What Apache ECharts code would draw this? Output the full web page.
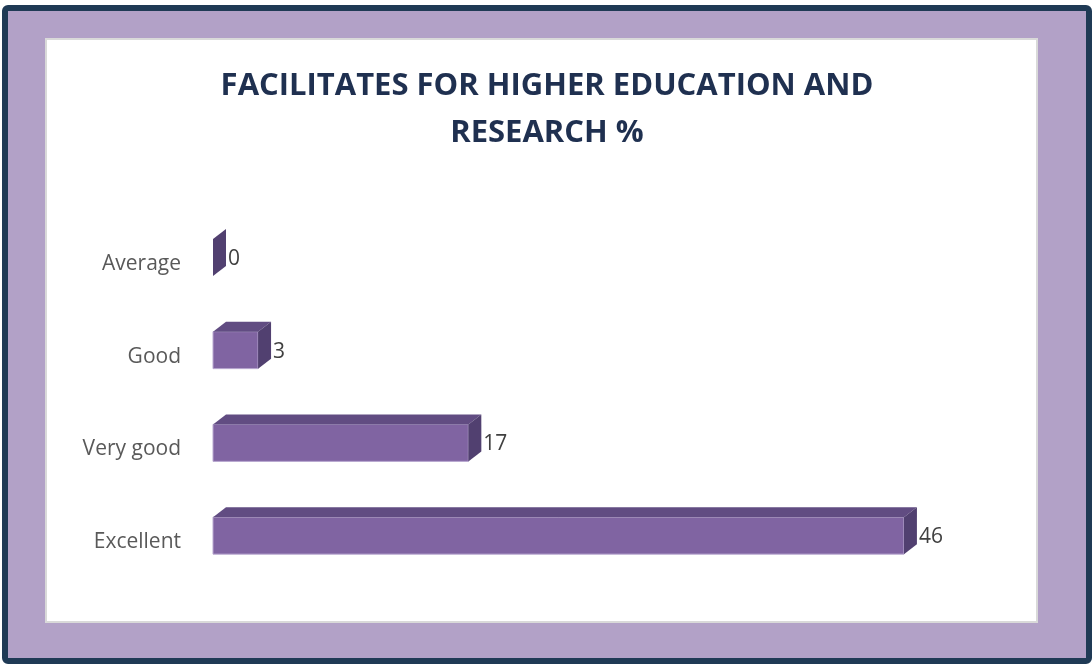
<!DOCTYPE html>
<html>
<head>
<meta charset="utf-8">
<script src="https://cdn.jsdelivr.net/npm/echarts@6/dist/echarts.min.js"></script>
<style>
  html, body { margin: 0; padding: 0; background: #fff; }
  #chart { width: 1092px; height: 664px; }
</style>
</head>
<body>
<div id="chart"></div>
<script>
// bottom to top, same order as the y axis
const categories = ['Excellent', 'Very good', 'Good', 'Average']
const values = [46, 17, 3, 0]
const titleText = 'FACILITATES FOR HIGHER EDUCATION AND\nRESEARCH %'

const chart = echarts.init(document.getElementById('chart'))

// fake 3d bar: front face + top face + side face
const DX = 13
const DY = 10

const renderBar = (params, api) => {
  const val = api.value(0)
  const cat = api.value(1)
  const p0 = api.coord([0, cat])
  const p1 = api.coord([val, cat])
  const x0 = p0[0]
  const x1 = p1[0]
  const c = p0[1]
  const top = c - 25
  const bottom = c + 12
  const children = []
  if (x1 - x0 > 0.5) {
    children.push({
      type: 'rect',
      shape: { x: x0, y: top, width: x1 - x0, height: bottom - top },
      style: { fill: '#8064a2', stroke: '#b9a8d0', lineWidth: 1 }
    })
    children.push({
      type: 'polygon',
      shape: { points: [[x0, top], [x1, top], [x1 + DX, top - DY], [x0 + DX, top - DY]] },
      style: { fill: '#614c82' }
    })
  }
  children.push({
    type: 'polygon',
    shape: { points: [[x1, top], [x1 + DX, top - DY], [x1 + DX, bottom - DY], [x1, bottom]] },
    style: { fill: '#514070' }
  })
  children.push({
    type: 'text',
    style: {
      x: x1 + DX + 2,
      y: c - 5,
      text: String(val),
      fill: '#404040',
      font: '21px "Open Sans", sans-serif',
      verticalAlign: 'middle',
      align: 'left'
    }
  })
  return { type: 'group', children }
}

const option = {
  animation: false,
  graphic: [
    {
      type: 'rect',
      z: -10,
      shape: { x: 5, y: 8, width: 1084, height: 653, r: 3 },
      style: { fill: '#b2a1c7', stroke: '#1f3a55', lineWidth: 6 }
    },
    {
      type: 'rect',
      z: -9,
      shape: { x: 46, y: 39, width: 991, height: 583 },
      style: { fill: '#ffffff', stroke: '#d9d9d9', lineWidth: 2 }
    }
  ],
  title: {
    text: titleText,
    left: 542,
    top: 58,
    textAlign: 'center',
    textStyle: {
      color: '#1f3050',
      fontSize: 31,
      fontWeight: 'bold',
      fontFamily: '"Open Sans", sans-serif',
      lineHeight: 47
    }
  },
  grid: {
    left: 213,
    right: 128,
    top: 217.5,
    bottom: 75.5,
    containLabel: false
  },
  xAxis: {
    type: 'value',
    min: 0,
    max: 50,
    show: false
  },
  yAxis: {
    type: 'category',
    data: categories,
    axisLine: { show: false },
    axisTick: { show: false },
    splitLine: { show: false },
    axisLabel: {
      margin: 32,
      color: '#595959',
      fontSize: 21,
      fontFamily: '"Open Sans", sans-serif',
      padding: [4, 0, 0, 0]
    }
  },
  series: [
    {
      type: 'custom',
      renderItem: renderBar,
      encode: { x: 0, y: 1 },
      data: values.map((v, i) => [v, i])
    }
  ]
}

chart.setOption(option)
window.addEventListener('resize', () => chart.resize())
</script>
</body>
</html>
